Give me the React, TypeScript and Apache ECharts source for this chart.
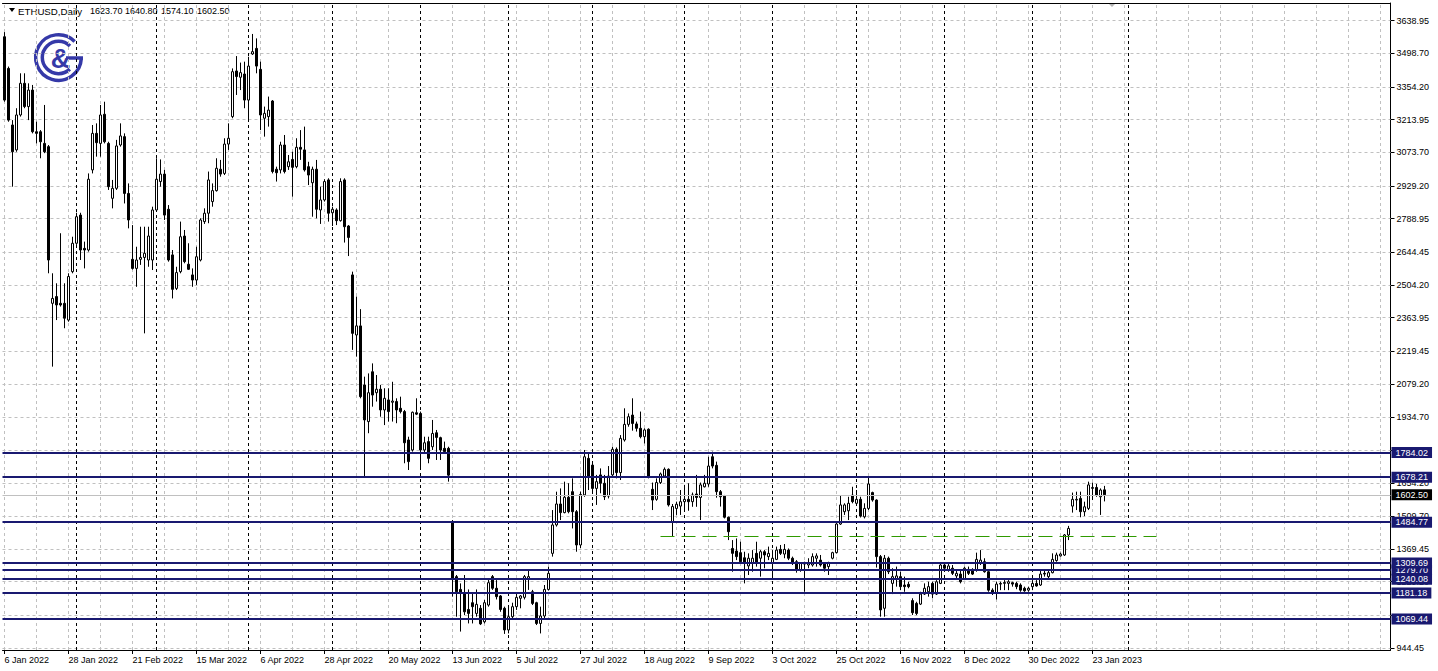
import React, { useEffect, useRef } from "react";
import * as echarts from "echarts";

// ---------- data (weekday daily bars, 6 Jan 2022 .. 26 Jan 2023) ----------
const openPrices = [
  3570, 3434, 3191, 3084, 3234, 3370, 3270, 3341, 3162, 3162, 3112, 3098, 2425, 2454, 2425, 2425, 2353, 2561, 2683, 2804,
  2661, 2654, 2998, 3155, 3112, 3237, 3112, 2876, 2919, 3105, 3141, 2897, 2614, 2575, 2614, 2622, 2611, 2611, 2826, 2948,
  2980, 2829, 2633, 2489, 2561, 2714, 2593, 2547, 2525, 2611, 2776, 2812, 2862, 2909, 3001, 2983, 3109, 3227, 3423, 3396,
  3410, 3298, 3496, 3520, 3430, 3220, 3227, 3294, 3001, 2998, 3105, 3012, 3043, 3012, 3095, 3084, 3012, 2943, 3001, 2826,
  2869, 2955, 2814, 2826, 2780, 2955, 2757, 2547, 2289, 2328, 2074, 1917, 2131, 2041, 2056, 1967, 2010, 2000, 2003, 1974,
  1960, 1838, 1795, 1955, 1952, 1795, 1831, 1809, 1869, 1848, 1802, 1802, 1487, 1251, 1196, 1182, 1110, 1139, 1093, 1115,
  1057, 1129, 1251, 1201, 1168, 1115, 1022, 1079, 1122, 1158, 1162, 1239, 1186, 1139, 1050, 1082, 1196, 1351, 1473, 1563,
  1526, 1592, 1616, 1530, 1387, 1602, 1759, 1730, 1630, 1688, 1652, 1597, 1688, 1798, 1698, 1838, 1905, 1945, 1907, 1888,
  1852, 1884, 1626, 1583, 1655, 1683, 1712, 1487, 1544, 1554, 1573, 1583, 1573, 1606, 1591, 1637, 1649, 1766, 1729, 1616,
  1597, 1506, 1372, 1361, 1354, 1332, 1297, 1308, 1351, 1330, 1358, 1337, 1308, 1325, 1368, 1348, 1365, 1330, 1315, 1279,
  1308, 1301, 1301, 1330, 1322, 1305, 1294, 1330, 1354, 1477, 1530, 1534, 1601, 1566, 1583, 1508, 1544, 1612, 1580, 1337,
  1115, 1330, 1222, 1240, 1251, 1215, 1218, 1148, 1136, 1133, 1176, 1186, 1222, 1176, 1222, 1301, 1279, 1287, 1254, 1262,
  1240, 1282, 1282, 1279, 1308, 1315, 1272, 1193, 1179, 1219, 1222, 1222, 1225, 1222, 1215, 1201, 1193, 1208, 1222, 1215,
  1265, 1251, 1268, 1320, 1340, 1344, 1430, 1554, 1580, 1587, 1530, 1544, 1630, 1634, 1594, 1623.7,
];
const highPrices = [
  3590, 3442, 3212, 3263, 3413, 3413, 3370, 3363, 3205, 3169, 3277, 3105, 2554, 2511, 2726, 2511, 2554, 2711, 2814, 2814,
  2690, 2983, 3191, 3198, 3277, 3291, 3119, 2955, 3127, 3198, 3155, 2940, 2761, 2668, 2754, 2754, 2754, 2840, 3048, 3043,
  2998, 2847, 2654, 2582, 2776, 2740, 2683, 2575, 2668, 2790, 2833, 2991, 2940, 3048, 3041, 3134, 3198, 3434, 3487, 3459,
  3463, 3484, 3582, 3563, 3463, 3270, 3313, 3298, 3012, 3119, 3148, 3062, 3076, 3134, 3169, 3184, 3033, 3012, 3041, 2926,
  2958, 2962, 2840, 2833, 2962, 2962, 2761, 2561, 2454, 2400, 2110, 2124, 2167, 2117, 2074, 2060, 2060, 2088, 2017, 2024,
  1967, 1852, 1960, 2017, 1960, 1852, 1852, 1924, 1881, 1852, 1831, 1809, 1494, 1258, 1222, 1258, 1196, 1179, 1196, 1129,
  1151, 1244, 1258, 1236, 1172, 1122, 1122, 1139, 1179, 1172, 1258, 1282, 1194, 1143, 1122, 1215, 1294, 1537, 1616, 1630,
  1659, 1652, 1673, 1537, 1616, 1795, 1781, 1745, 1688, 1716, 1688, 1726, 1809, 1806, 1859, 1974, 1952, 2017, 1917, 1960,
  1888, 1888, 1655, 1673, 1698, 1720, 1716, 1563, 1573, 1623, 1645, 1652, 1612, 1688, 1655, 1688, 1766, 1788, 1745, 1623,
  1602, 1509, 1408, 1415, 1401, 1358, 1351, 1365, 1401, 1365, 1365, 1380, 1365, 1380, 1387, 1391, 1372, 1337, 1322, 1311,
  1315, 1330, 1351, 1351, 1344, 1311, 1315, 1358, 1487, 1601, 1566, 1594, 1637, 1623, 1594, 1566, 1677, 1616, 1583, 1344,
  1344, 1337, 1287, 1294, 1272, 1251, 1229, 1158, 1143, 1186, 1222, 1229, 1229, 1236, 1308, 1308, 1305, 1301, 1279, 1279,
  1294, 1294, 1287, 1354, 1365, 1330, 1276, 1201, 1229, 1229, 1236, 1236, 1229, 1229, 1222, 1208, 1208, 1236, 1236, 1275,
  1277, 1282, 1351, 1354, 1354, 1434, 1469, 1612, 1616, 1616, 1573, 1659, 1655, 1649, 1630, 1640.8,
];
const lowPrices = [
  3291, 3205, 2926, 3076, 3227, 3263, 3212, 3155, 3112, 3048, 3070, 2554, 2153, 2353, 2411, 2318, 2346, 2554, 2676, 2611,
  2575, 2647, 2983, 3055, 3055, 3112, 2912, 2833, 2912, 3098, 2854, 2747, 2570, 2496, 2590, 2296, 2582, 2568, 2826, 2926,
  2783, 2604, 2446, 2482, 2554, 2597, 2568, 2496, 2504, 2605, 2766, 2769, 2840, 2905, 2969, 2976, 3084, 3220, 3320, 3341,
  3263, 3212, 3492, 3413, 3169, 3141, 3184, 2983, 2948, 2983, 2983, 2998, 2883, 3005, 3041, 2991, 2933, 2797, 2790, 2766,
  2862, 2776, 2757, 2761, 2776, 2686, 2628, 2225, 2196, 2017, 1680, 1867, 1981, 2003, 1938, 1902, 1917, 1917, 1910, 1952,
  1738, 1709, 1788, 1945, 1709, 1780, 1738, 1795, 1752, 1752, 1781, 1659, 1165, 1079, 1015, 1086, 1050, 1050, 1079, 1043,
  1050, 1122, 1194, 1153, 1100, 1005, 1007, 1065, 1108, 1115, 1153, 1194, 1129, 1043, 1007, 1072, 1191, 1337, 1466, 1494,
  1523, 1523, 1458, 1358, 1373, 1594, 1623, 1609, 1559, 1609, 1580, 1587, 1680, 1673, 1666, 1831, 1895, 1878, 1874, 1845,
  1823, 1673, 1537, 1577, 1649, 1677, 1552, 1425.5, 1516, 1516, 1537, 1534, 1551, 1551, 1494, 1634, 1637, 1716, 1590, 1552,
  1501, 1408, 1272, 1322, 1308, 1222, 1258, 1272, 1294, 1251, 1287, 1322, 1258, 1322, 1344, 1330, 1322, 1301, 1268, 1272,
  1186, 1287, 1294, 1294, 1294, 1272, 1258, 1325, 1351, 1473, 1516, 1494, 1566, 1559, 1505, 1501, 1537, 1573, 1290, 1079,
  1079, 1262, 1176, 1208, 1193, 1186, 1201, 1086, 1086, 1129, 1172, 1165, 1158, 1172, 1219, 1272, 1272, 1258, 1244, 1222,
  1236, 1258, 1258, 1272, 1301, 1268, 1186, 1172, 1153, 1193, 1193, 1193, 1208, 1197, 1186, 1186, 1186, 1193, 1208, 1211,
  1251, 1244, 1265, 1315, 1337, 1340, 1408, 1526, 1537, 1506, 1511, 1537, 1580, 1594, 1516, 1574.1,
];
const closePrices = [
  3298, 3212, 3076, 3234, 3370, 3270, 3341, 3162, 3155, 3119, 3076, 2611, 2446, 2418, 2418, 2361, 2540, 2683, 2797, 2654,
  2654, 2958, 3155, 3115, 3234, 3119, 2926, 2919, 3101, 3144, 2897, 2783, 2575, 2611, 2622, 2640, 2714, 2826, 2958, 2980,
  2804, 2611, 2485, 2557, 2711, 2604, 2571, 2525, 2625, 2783, 2812, 2955, 2909, 3005, 2980, 3109, 3134, 3420, 3399, 3416,
  3298, 3444, 3506, 3444, 3234, 3241, 3255, 2991, 2986, 3105, 2991, 3033, 3009, 3095, 3087, 2998, 2976, 3001, 2829, 2869,
  2948, 2812, 2829, 2780, 2948, 2754, 2708, 2296, 2328, 2024, 1924, 2041, 2031, 2056, 1967, 2017, 1960, 2005, 1967, 1960,
  1826, 1745, 1957, 1949, 1795, 1826, 1759, 1866, 1849, 1795, 1788, 1687, 1244, 1186, 1179, 1100, 1093, 1122, 1132, 1048,
  1139, 1225, 1201, 1165, 1110, 1022, 1079, 1122, 1162, 1168, 1251, 1251, 1136, 1050, 1082, 1196, 1265, 1473, 1563, 1526,
  1592, 1530, 1530, 1387, 1604, 1766, 1680, 1630, 1659, 1652, 1594, 1683, 1798, 1698, 1845, 1905, 1938, 1909, 1888, 1852,
  1881, 1680, 1580, 1655, 1692, 1712, 1559, 1552, 1562, 1573, 1583, 1573, 1602, 1591, 1645, 1652, 1726, 1726, 1616, 1594,
  1506, 1444, 1351, 1337, 1315, 1308, 1330, 1330, 1308, 1358, 1344, 1351, 1330, 1365, 1351, 1368, 1330, 1308, 1279, 1308,
  1305, 1308, 1337, 1340, 1301, 1287, 1311, 1354, 1477, 1559, 1559, 1566, 1573, 1583, 1511, 1544, 1649, 1580, 1337, 1108,
  1330, 1272, 1251, 1254, 1208, 1208, 1208, 1096, 1093, 1176, 1201, 1208, 1176, 1229, 1301, 1287, 1297, 1265, 1265, 1229,
  1287, 1265, 1262, 1325, 1322, 1272, 1193, 1179, 1219, 1222, 1226, 1229, 1219, 1208, 1193, 1190, 1201, 1222, 1211, 1262,
  1262, 1268, 1325, 1344, 1348, 1430, 1458, 1583, 1583, 1530, 1551, 1645, 1634, 1602, 1623, 1602.5,
];

// price-scale grid values; two of them are completely hidden under level boxes in the reference
const yTickValues = [
  3638.95, 3498.7, 3354.2, 3213.95, 3073.7, 2929.2, 2788.95, 2644.45, 2504.2, 2363.95,
  2219.45, 2079.2, 1934.7, 1794.45, 1654.2, 1509.7, 1369.45, 1229.2, 1084.7, 944.45,
];
const hiddenTickLabels = [1794.45, 1084.7];
// horizontal level lines (drawn in this order; later ones on top)
const levelPrices = [1279.7, 1784.02, 1678.21, 1484.77, 1309.69, 1240.08, 1181.18, 1069.44];
const supportLevel = 1425.5;
const supportFromBar = 164;
const supportToSlot = 288;

const FIRST_BAR = [2022, 0, 6];
const BAR_COUNT = 276;
const TOTAL_SLOTS = 347;
const LABEL_EVERY = 16;
const GRID_EVERY = 8;
const LAST_SEPARATOR_MONTH = "2023-02";
const Y_MIN = 935.85;
const Y_MAX = 3714.98;
const MONTHS = ["Jan", "Feb", "Mar", "Apr", "May", "Jun", "Jul", "Aug", "Sep", "Oct", "Nov", "Dec"];

const NAVY = "#191970";
const FONT = "'Liberation Sans', Arial, sans-serif";
const LOGO_BLUE = "#3539a8";

function buildCategories(): string[] {
  const out: string[] = [];
  const d = new Date(Date.UTC(FIRST_BAR[0], FIRST_BAR[1], FIRST_BAR[2]));
  while (out.length < TOTAL_SLOTS) {
    const wd = d.getUTCDay();
    if (out.length >= BAR_COUNT || (wd !== 0 && wd !== 6)) out.push(d.toISOString().slice(0, 10));
    d.setUTCDate(d.getUTCDate() + 1);
  }
  return out;
}

function fmtDate(v: string): string {
  const [y, m, d] = v.split("-");
  return `${Number(d)} ${MONTHS[Number(m) - 1]} ${y}`;
}

export default function App() {
  const ref = useRef<HTMLDivElement>(null);

  useEffect(() => {
    if (!ref.current) return;
    const chart = echarts.init(ref.current, undefined, { renderer: "svg" });
    const cats = buildCategories();
    const candles = openPrices.map((o, i) => [o, closePrices[i], lowPrices[i], highPrices[i]]);

    const monthStarts: number[] = [];
    for (let i = 1; i < cats.length; i++) {
      if (cats[i].slice(0, 7) !== cats[i - 1].slice(0, 7) && cats[i].slice(0, 7) <= LAST_SEPARATOR_MONTH) monthStarts.push(i);
    }
    const gridSlots: number[] = [];
    for (let i = 0; i < cats.length; i += GRID_EVERY) gridSlots.push(i);

    const labelInterval = (index: number) => index % LABEL_EVERY === 0 && index < BAR_COUNT;
    const last = BAR_COUNT - 1;
    const bid = closePrices[last];
    const labelValues = yTickValues.filter((v) => !hiddenTickLabels.includes(v));

    const gridStyle = { color: "#c0c0c0", type: [3, 3], width: 1 };
    const sepStyle = { color: "#000", type: [3, 3], width: 1 };

    const boxLabel = (v: number, bg: string) => ({
      show: true,
      position: "end",
      formatter: v.toFixed(2),
      backgroundColor: bg,
      color: "#fff",
      padding: [1, 4, 1, 4],
      distance: 1,
      fontSize: 9,
      fontFamily: FONT,
    });

    const headerText = (x: number, text: string, size: number) => ({
      type: "text",
      x,
      y: 11,
      silent: true,
      style: { text, fill: "#000", font: `${size}px ${FONT}`, verticalAlign: "middle" },
    });

    const option: any = {
      animation: false,
      backgroundColor: "#fff",
      textStyle: { fontFamily: FONT, fontSize: 9, color: "#000" },
      grid: { left: 2.5, top: 3, width: 1388, height: 647, containLabel: false },
      xAxis: [
        {
          type: "category",
          data: cats,
          boundaryGap: true,
          axisLine: { show: true, lineStyle: { color: "#000", width: 1 } },
          axisTick: { show: true, alignWithLabel: true, interval: labelInterval, length: 4, lineStyle: { color: "#000" } },
          axisLabel: {
            interval: labelInterval,
            formatter: (v: string) => fmtDate(v),
            align: "left",
            color: "#000",
            fontSize: 9,
            fontFamily: FONT,
            margin: 5,
          },
          splitLine: { show: false },
        },
        {
          type: "category",
          data: cats,
          position: "top",
          axisLine: { show: true, lineStyle: { color: "#000", width: 1 } },
          axisTick: { show: false },
          axisLabel: { show: false },
          splitLine: { show: false },
        },
      ],
      yAxis: {
        type: "value",
        position: "right",
        min: Y_MIN,
        max: Y_MAX,
        axisLine: { show: true, lineStyle: { color: "#000", width: 1 } },
        axisTick: { show: true, customValues: yTickValues, length: 4, lineStyle: { color: "#000" } },
        axisLabel: {
          customValues: labelValues,
          formatter: (v: number) => v.toFixed(2),
          color: "#000",
          fontSize: 9,
          fontFamily: FONT,
          margin: 6,
        },
        splitLine: { show: false },
      },
      graphic: [
        { type: "polygon", shape: { points: [[9, 8], [15, 8], [12, 12]] }, style: { fill: "#000" }, silent: true },
        headerText(18, "ETHUSD,Daily", 9.7),
        headerText(90, openPrices[last].toFixed(2), 9),
        headerText(125, highPrices[last].toFixed(2), 9),
        headerText(161, lowPrices[last].toFixed(2), 9),
        headerText(197, closePrices[last].toFixed(2), 9),
        { type: "polygon", shape: { points: [[1108, 3], [1116, 3], [1112, 7]] }, style: { fill: "#b4b4b4" }, silent: true },
        // logo
        { type: "arc", shape: { cx: 58.5, cy: 57.5, r: 22.8, startAngle: 0.05, endAngle: 5.5, clockwise: true }, style: { stroke: LOGO_BLUE, lineWidth: 3.5, fill: "none" }, silent: true },
        { type: "line", shape: { x1: 66, y1: 58, x2: 83, y2: 58 }, style: { stroke: LOGO_BLUE, lineWidth: 3.5 }, silent: true },
        { type: "arc", shape: { cx: 58.5, cy: 57.5, r: 16.2, startAngle: 0.8, endAngle: 5.5, clockwise: true }, style: { stroke: LOGO_BLUE, lineWidth: 3.5, fill: "none" }, silent: true },
        { type: "text", x: 60.5, y: 58.5, style: { text: "&", fill: LOGO_BLUE, font: `bold 27px ${FONT}`, align: "center", verticalAlign: "middle" }, silent: true },
      ],
      series: [
        {
          type: "line",
          data: cats.map(() => null),
          symbol: "none",
          silent: true,
          z: 1,
          lineStyle: { opacity: 0 },
          markLine: {
            silent: true,
            z: 1,
            symbol: ["none", "none"],
            label: { show: false },
            emphasis: { disabled: true },
            data: [
              ...yTickValues.map((v) => ({ yAxis: v, lineStyle: gridStyle })),
              ...gridSlots.map((i) => ({ xAxis: cats[i], lineStyle: gridStyle })),
              ...monthStarts.map((i) => ({ xAxis: cats[i], lineStyle: sepStyle })),
            ],
          },
        },
        {
          type: "candlestick",
          z: 3,
          barWidth: 2,
          data: candles,
          itemStyle: {
            color: "#fff",
            color0: "#000",
            borderColor: "#000",
            borderColor0: "#000",
            borderColorDoji: "#000",
            borderWidth: 1,
          },
          emphasis: { disabled: true },
          markLine: {
            silent: true,
            z: 5,
            symbol: ["none", "none"],
            emphasis: { disabled: true },
            data: [
              { yAxis: bid, lineStyle: { color: "#c0c0c0", type: "solid", width: 1 }, label: boxLabel(bid, "#000") },
              ...levelPrices.map((v) => ({ yAxis: v, lineStyle: { color: NAVY, type: "solid", width: 2 }, label: boxLabel(v, NAVY) })),
              [
                { coord: [cats[supportFromBar], supportLevel], lineStyle: { color: "#2f9a00", type: [14, 7], width: 1 }, label: { show: false } },
                { coord: [cats[supportToSlot], supportLevel] },
              ],
            ],
          },
        },
      ],
    };

    chart.setOption(option);
    return () => chart.dispose();
  }, []);

  return (
    <div style={{ position: "fixed", left: 0, top: 0, width: 1438, height: 671, background: "#fff" }}>
      <div ref={ref} style={{ width: 1438, height: 671 }} />
    </div>
  );
}
